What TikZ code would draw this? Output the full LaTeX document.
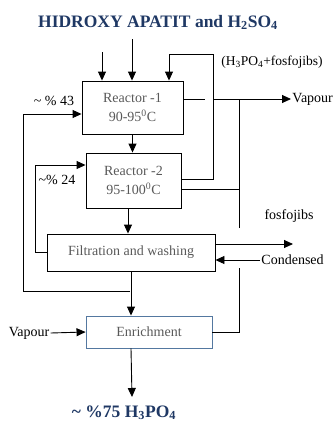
\documentclass[tikz,border=0pt]{standalone}
\usepackage{fontspec}
\setmainfont{Liberation Serif}
\usetikzlibrary{arrows.meta}
\definecolor{prgray}{RGB}{89,89,89}
\definecolor{prnavy}{RGB}{31,56,100}
\definecolor{prblue}{RGB}{84,120,160}
\tikzset{prbox/.style={draw,inner sep=0pt,align=center,text=prgray,font=\fontsize{14}{19}\selectfont},
         prlab/.style={font=\fontsize{14}{16}\selectfont,inner sep=1pt},
         prhead/.style={font=\fontsize{17.5}{20}\selectfont\bfseries,text=prnavy,inner sep=0pt},
         prarr/.style={-{Triangle[length=9pt,width=8pt]}}}

\begin{document}
\begin{tikzpicture}[x=1pt,y=-1pt,line width=0.9pt]
    \useasboundingbox (0,0) rectangle (335,424);
    % process boxes
    \node[prbox,minimum width=101pt,minimum height=53pt] (r1) at (132.5,107.5) {Reactor -1\\90-95\textsuperscript{0}C};
    \node[prbox,minimum width=95pt,minimum height=55pt] (r2) at (133.5,180.5) {Reactor -2\\95-100\textsuperscript{0}C};
    \node[prbox,minimum width=168pt,minimum height=37pt] (filt) at (131,252.5) {Filtration and washing};
    \node[prbox,draw=prblue,minimum width=126pt,minimum height=32pt] (enr) at (149,332) {Enrichment};
    % labels
    \node[prhead,anchor=base] (head) at (158,27) {HIDROXY APATIT and H\textsubscript{2}SO\textsubscript{4}};
    \node[prhead,anchor=base] (out) at (124,417) {\textasciitilde{} \%75 H\textsubscript{3}PO\textsubscript{4}};
    \node[prlab,font=\fontsize{13.5}{16}\selectfont] (lblmix) at (272,62) {(H\textsubscript{3}PO\textsubscript{4}+fosfojibs)};
    \node[prlab,anchor=west] (vapR) at (291,99) {Vapour};
    \node[prlab] (vapL) at (29,333) {Vapour};
    \node[prlab] (lbl43) at (54,101) {\textasciitilde{} \% 43};
    \node[prlab] (lbl24) at (57,180) {\textasciitilde\% 24};
    \node[prlab] (fosf) at (289,216) {fosfojibs};
    \node[prlab,anchor=west] (cond) at (260,260) {Condensed};
    % free ends and corners
    \coordinate (in1) at (102,52);
    \coordinate (in2) at (132,39);
    \coordinate (k1) at (213,54);
    \coordinate (k2) at (169,54);
    \coordinate (g1) at (205,99);
    \coordinate (g2) at (214,99);
    \coordinate (v1) at (239,99);
    \coordinate (v2) at (239,228);
    \coordinate (v3) at (239,268);
    \coordinate (c43a) at (130,291);
    \coordinate (c43b) at (23,114);
    \coordinate (c24) at (35,165);
    \coordinate (f1) at (293,244);
    \coordinate (o1) at (132,397);
    % feeds
    \draw[prarr] (in1) -- (in1 |- r1.north);
    \draw[prarr] (in2) -- (in2 |- r1.north);
    \draw[prarr] ([yshift=1.5pt]r2.east) -| (k1) -- (k2) -- (k2 |- r1.north);
    % vapour line
    \draw ([yshift=8.5pt]r1.east) -- (g1);
    \draw[prarr] (g2) -- (vapR.west);
    \draw (v2) -- (v1);
    \draw ([yshift=-8.5pt]r2.east) -- ([yshift=-8.5pt]r2.east -| v1);
    \draw (enr.east) -| (v3);
    % main flow
    \draw[prarr] (r1.south) -- (r1.south |- r2.north);
    \draw[prarr] ([xshift=-5.5pt]r2.south) -- ([xshift=-5.5pt]r2.south |- filt.north);
    \draw[prarr] (filt.south) -- (filt.south |- enr.north);
    \draw[prarr] (filt.south |- enr.south) -- (o1);
    \draw[prarr] (vapL.east) -- (enr.west);
    % recycles
    \draw[prarr] (c43a) -| (c43b) -- (c43b -| r1.west);
    \draw[prarr] (filt.west) -| (c24) -- (c24 -| r2.west);
    % filtration outlets
    \draw[prarr] ([yshift=8.5pt]filt.east) -- (f1);
    \draw[prarr] (cond.west) -- (cond.west -| filt.east);
\end{tikzpicture}
\end{document}
